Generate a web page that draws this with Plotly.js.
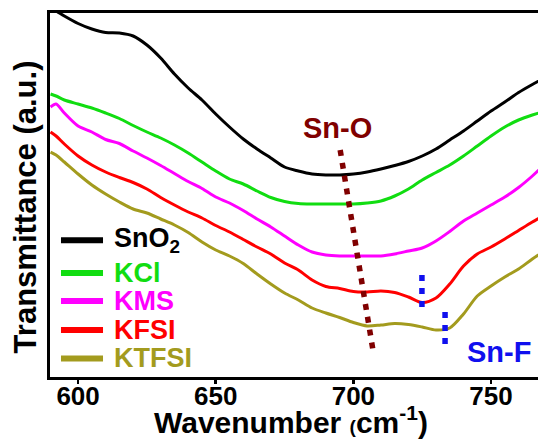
<!DOCTYPE html>
<html>
<head>
<meta charset="utf-8">
<script src="https://cdn.plot.ly/plotly-3.0.1.min.js"></script>
<style>
  html, body { margin: 0; padding: 0; overflow: hidden; background: #ffffff; }
  #chart { width: 560px; height: 441px; }
</style>
</head>
<body>
<div id="chart"></div>
<script>
// FTIR spectra in the Sn-O / Sn-F region, curves offset vertically (a.u.)
const wavenumber = [590, 592, 595, 600, 605, 610, 615, 620, 625, 630, 635, 640, 645, 650, 655, 660,
  665, 670, 675, 680, 685, 690, 695, 700, 705, 710, 715, 720, 725, 730, 735, 740, 745, 750, 755, 760, 765, 770];

const snO2 = [369, 366, 361, 353.5, 348, 344.5, 344, 341, 332, 319, 303, 289, 277, 263, 250, 238,
  228, 219, 210, 206, 203, 202, 202, 203, 205, 208, 211.5, 215.5, 221, 228, 237, 246, 256, 266, 275, 284.5, 292.5, 300];

const kcl = [283, 281, 277, 273, 269, 264, 258.5, 251.5, 245, 239, 232, 224, 215, 206, 198, 193,
  186, 179.5, 175.5, 173.5, 173, 173, 173, 173, 174, 176, 181, 188, 197, 204.5, 212, 221, 231, 241, 250, 257, 262, 266];

const kms = [270, 273, 264, 251, 245, 237.5, 233.5, 226, 219, 211.5, 203.5, 195.5, 188.5, 180, 174, 166.5,
  158, 150, 141, 132, 125, 122, 121, 121, 121, 121, 123, 126, 129, 136, 145.5, 156, 164, 172, 180, 189.5, 201, 214];

const kfsi = [245, 241, 233, 221, 212, 205, 199.5, 194.5, 188, 179.5, 172, 165, 159, 151.5, 145, 137.5,
  130, 123, 114, 107, 97, 90.5, 88.5, 85.5, 85, 86, 84.5, 80, 74.5, 79, 93, 111, 123, 130, 138, 146.5, 155, 163];

const ktfsi = [225, 222, 215, 203, 192, 183, 175, 168, 164, 158, 152, 144.5, 135, 127, 121, 113.5,
  103, 93, 84, 77, 69, 64, 59.5, 54.5, 51, 52, 53.5, 52.5, 50, 47, 49, 63, 81, 91, 100, 108, 118, 127];

const seriesNames = ['SnO<sub>2</sub>', 'KCl', 'KMS', 'KFSI', 'KTFSI'];
const seriesColors = ['#000000', '#11dd11', '#ff00ff', '#ff0000', '#a39b1e'];
const seriesValues = [snO2, kcl, kms, kfsi, ktfsi];

// band guides: Sn-O (slanted dotted) and Sn-F (two short vertical dotted marks)
const snOGuideX = [695.2, 707.1];
const snOGuideY = [227, 27];
const snFGuideX = [[724.9, 724.9], [733.3, 733.3]];
const snFGuideY = [[102, 67], [65, 31]];
const tickValues = [600, 650, 700, 750];

const FONT = 'Arial, "Liberation Sans", sans-serif';

const traces = seriesValues.map((vals, i) => ({
  x: wavenumber,
  y: vals,
  type: 'scatter',
  mode: 'lines',
  name: seriesNames[i],
  line: { color: seriesColors[i], width: 3, shape: 'spline', smoothing: 0.8 },
  hoverinfo: 'skip'
}));

traces.push({
  x: snOGuideX, y: snOGuideY, type: 'scatter', mode: 'lines',
  line: { color: '#800000', width: 5.5, dash: '6px,7px' }, hoverinfo: 'skip'
});
snFGuideX.forEach((gx, i) => traces.push({
  x: gx, y: snFGuideY[i], type: 'scatter', mode: 'lines',
  line: { color: '#1010ee', width: 5.5, dash: '6px,7px' }, hoverinfo: 'skip'
}));

// hand-built legend in the lower-left corner of the plot
const legendRowY = [0.376, 0.286, 0.209, 0.129, 0.051];
const shapes = seriesNames.map((n, i) => ({
  type: 'line', xref: 'paper', yref: 'paper',
  x0: 0.0222, x1: 0.1071, y0: legendRowY[i], y1: legendRowY[i],
  line: { color: seriesColors[i], width: 6 }
}));
const annotations = seriesNames.map((n, i) => ({
  xref: 'paper', yref: 'paper', x: 0.1253, y: legendRowY[i],
  xanchor: 'left', yanchor: 'middle', showarrow: false,
  text: '<b>' + n + '</b>',
  font: { family: FONT, size: 27, color: seriesColors[i] }
}));
annotations.push({
  xref: 'x', yref: 'y', x: 694.1, y: 249, showarrow: false,
  text: '<b>Sn-O</b>', font: { family: FONT, size: 29, color: '#800000' }
});
annotations.push({
  xref: 'x', yref: 'y', x: 752.9, y: 25, showarrow: false,
  text: '<b>Sn-F</b>', font: { family: FONT, size: 29, color: '#1010ee' }
});
// axis titles
annotations.push({
  xref: 'paper', yref: 'paper', x: -0.0505, y: 0.466, textangle: -90,
  xanchor: 'center', yanchor: 'middle', showarrow: false,
  text: '<b>Transmittance (a.u.)</b>',
  font: { family: FONT, size: 31, color: '#000000' }
});
annotations.push({
  xref: 'paper', yref: 'paper', x: 0.487, y: -0.117,
  xanchor: 'center', yanchor: 'middle', showarrow: false,
  text: '<b>Wavenumber <span style="font-size:19px">(</span>cm<sup>-1</sup>)</b>',
  font: { family: FONT, size: 30, color: '#000000' }
});

const layout = {
  width: 560, height: 441,
  margin: { l: 50, r: 15, t: 13, b: 64 },
  paper_bgcolor: '#ffffff', plot_bgcolor: '#ffffff',
  showlegend: false,
  font: { family: FONT, color: '#000000' },
  xaxis: {
    range: [589.8, 769.6],
    tickvals: tickValues,
    ticktext: tickValues.map(String),
    ticks: 'outside', ticklen: 4, tickwidth: 2.5, tickcolor: '#000000',
    ticklabelstandoff: -10,
    showline: true, linewidth: 3, linecolor: '#000000', mirror: true,
    showgrid: false, zeroline: false,
    tickfont: { family: FONT, size: 26, weight: 'bold', color: '#000000' },
    automargin: false
  },
  yaxis: {
    range: [0, 364],
    showticklabels: false, ticks: '',
    showline: true, linewidth: 3, linecolor: '#000000', mirror: true,
    showgrid: false, zeroline: false,
    automargin: false
  },
  shapes: shapes,
  annotations: annotations
};

Plotly.newPlot('chart', traces, layout, { staticPlot: true, displayModeBar: false });
</script>
</body>
</html>
